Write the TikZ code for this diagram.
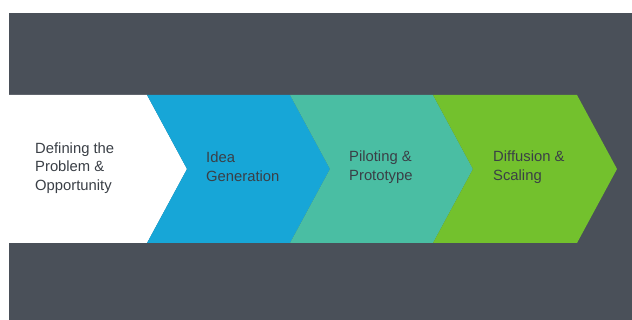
\documentclass[tikz,border=0pt]{standalone}
\usepackage{fontspec}
\setmainfont{Liberation Sans}
\usepackage{xcolor}
\usepackage{tikz}
\usetikzlibrary{positioning}

\definecolor{slate}{HTML}{4A5059}
\definecolor{ideablue}{HTML}{17A6D7}
\definecolor{pilotteal}{HTML}{4ABEA3}
\definecolor{scalegreen}{HTML}{73C12D}
\definecolor{labelgray}{HTML}{3A3F46}

\begin{document}
\begin{tikzpicture}[
  x=1pt,
  y=-1pt,
  stage/.style={
    anchor=west,
    align=left,
    inner sep=0pt,
    text=labelgray,
    font=\fontsize{14.8}{18.8}\selectfont
  }
]
\useasboundingbox (0,0) rectangle (632,320);
\fill[slate] (9,13) rectangle (632,320);
% the four chevrons
\fill[white] (9,95) -- (147,95) -- (187,169) -- (147,243) -- (9,243) -- cycle;
\fill[ideablue] (147,95) -- (290,95) -- (330,169) -- (290,243) -- (147,243) -- (187,169) -- cycle;
\fill[pilotteal] (290,95) -- (433,95) -- (473,169) -- (433,243) -- (290,243) -- (330,169) -- cycle;
\fill[scalegreen] (433,95) -- (577,95) -- (617,169) -- (577,243) -- (433,243) -- (473,169) -- cycle;
% labels
\node[stage] (define) at (35,168) {Defining the\\Problem \&\\Opportunity};
\node[stage] (idea) at (206,167) {Idea\\Generation};
\node[stage] (pilot) at (349,167) {Piloting \&\\Prototype};
\node[stage] (scale) at (493,167) {Diffusion \&\\Scaling};
\end{tikzpicture}
\end{document}
